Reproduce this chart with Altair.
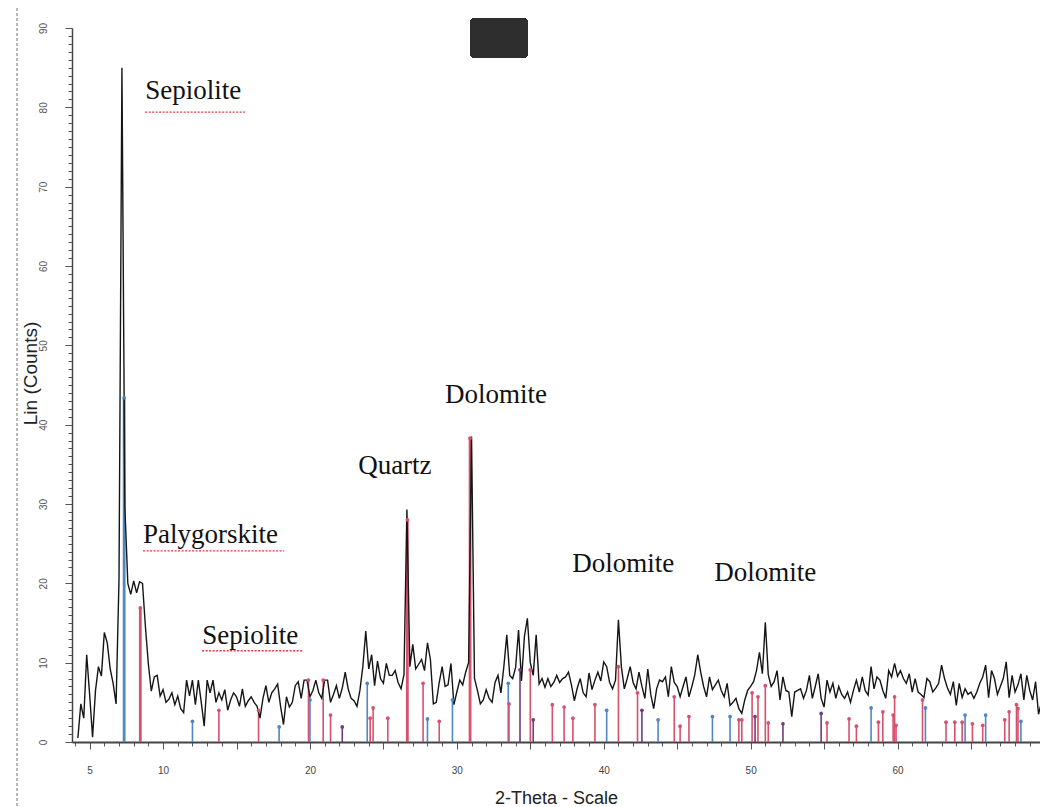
import altair as alt
import pandas as pd

# ---------------- data ----------------
# XRD trace: counts sampled every 0.2 deg 2-theta starting at 4.2
theta_start = 4.2
theta_step = 0.2
counts = [
    0.5, 4.8, 3.0, 11.0, 6.0, 0.6, 6.5, 9.5, 8.3, 13.8,
    12.5, 9.2, 7.4, 4.8, 20.5, 85.0, 29.5, 20.0, 18.6, 20.3,
    18.8, 20.2, 20.0, 14.5, 9.8, 6.4, 8.2, 8.4, 5.8, 6.6,
    5.0, 5.4, 6.2, 4.7, 5.8, 4.2, 3.7, 7.8, 5.8, 7.8,
    4.7, 7.8, 5.0, 2.0, 7.8, 6.2, 7.8, 5.0, 6.2, 5.3,
    6.6, 4.0, 5.3, 6.2, 5.7, 4.5, 6.7, 4.5, 5.2, 5.7,
    5.0, 4.5, 3.0, 5.5, 7.1, 5.0, 6.2, 6.7, 7.3, 4.5,
    2.2, 5.7, 4.4, 5.0, 7.1, 7.6, 5.5, 7.8, 7.8, 5.7,
    6.5, 7.8, 6.2, 5.5, 7.8, 7.8, 5.0, 6.0, 7.1, 5.5,
    6.8, 8.8, 6.7, 5.5, 5.2, 4.5, 6.5, 9.5, 14.0, 9.2,
    11.0, 7.1, 10.2, 8.0, 7.4, 9.9, 8.4, 8.4, 9.0, 7.5,
    6.7, 8.5, 29.3, 9.5, 12.3, 9.2, 9.8, 10.4, 9.0, 12.5,
    10.4, 4.8, 5.0, 7.5, 9.5, 7.0, 7.2, 9.9, 4.7, 6.3,
    7.8, 7.2, 8.8, 10.0, 38.5, 8.0, 6.5, 4.8, 5.3, 6.6,
    5.5, 5.0, 7.5, 8.4, 6.2, 9.5, 13.5, 8.4, 8.0, 9.4,
    14.1, 7.7, 13.3, 15.6, 10.0, 8.4, 13.5, 7.3, 8.0, 6.9,
    8.0, 7.0, 7.5, 8.4, 7.5, 8.0, 8.2, 8.8, 7.2, 5.2,
    6.8, 8.0, 6.2, 5.7, 8.7, 6.6, 7.8, 8.8, 7.7, 10.1,
    9.5, 7.5, 6.7, 7.8, 15.4, 9.5, 6.7, 8.0, 9.5, 7.5,
    6.7, 8.8, 7.0, 5.5, 9.2, 6.0, 4.2, 6.7, 7.8, 7.6,
    8.2, 5.7, 9.5, 7.5, 7.0, 5.7, 7.0, 8.2, 5.7, 7.0,
    8.5, 11.0, 8.8, 7.0, 5.7, 8.2, 6.6, 7.2, 7.8, 6.5,
    5.7, 7.4, 4.6, 5.0, 5.5, 4.2, 3.6, 5.3, 6.5, 7.0,
    7.6, 9.0, 11.3, 8.6, 15.1, 8.5, 7.0, 7.6, 9.0, 5.3,
    8.2, 6.5, 6.3, 3.2, 6.3, 6.5, 6.7, 5.5, 6.5, 8.4,
    5.5, 7.0, 8.6, 5.5, 4.4, 7.8, 6.3, 7.4, 5.5, 7.0,
    6.0, 5.5, 6.3, 5.0, 6.5, 7.8, 6.3, 8.2, 6.5, 5.9,
    9.5, 6.7, 8.2, 7.8, 6.5, 5.5, 9.0, 8.2, 9.9, 8.3,
    9.0, 8.0, 7.4, 8.6, 6.3, 8.0, 6.3, 6.0, 5.6, 8.0,
    7.6, 6.3, 6.8, 7.4, 9.7, 8.0, 6.8, 6.0, 7.6, 4.6,
    7.4, 5.6, 6.7, 6.0, 6.3, 5.5, 6.3, 7.4, 8.2, 9.7,
    5.6, 9.0, 8.0, 6.0, 7.0, 8.0, 10.1, 5.6, 8.4, 6.3,
    7.2, 8.6, 5.3, 8.4, 6.5, 5.3, 7.6, 3.5, 5.0,
]
theta = [round(theta_start + theta_step * i, 1) for i in range(len(counts))]

# reference-pattern sticks: position, height, phase group
stick_t = [7.35, 8.45, 12.0, 13.8, 16.5, 17.9, 19.9, 20.0, 20.9, 21.4,
           22.2, 23.9, 24.1, 24.3, 25.3, 26.63, 27.7, 28.0, 28.8, 29.7,
           30.9, 33.5, 33.55, 34.3, 35.0, 35.2, 36.5, 37.3, 37.9, 39.4,
           40.2, 41.0, 42.3, 42.6, 43.7, 44.8, 45.2, 45.8, 47.4, 48.6,
           49.2, 49.4, 50.1, 50.3, 50.5, 51.0, 51.2, 52.2, 54.8, 55.2,
           56.7, 57.2, 58.2, 58.7, 59.0, 59.7, 59.8, 59.9, 61.7, 61.9,
           63.3, 63.9, 64.4, 64.6, 65.1, 65.8, 66.0, 67.3, 67.6, 68.1,
           68.2, 68.4]
stick_h = [43.4, 16.9, 2.6, 4.0, 4.0, 1.9, 7.8, 5.3, 7.8, 3.4,
           1.9, 7.4, 3.0, 4.3, 3.0, 28.0, 7.4, 2.9, 2.6, 5.3,
           38.3, 7.4, 4.8, 9.1, 9.1, 2.8, 4.7, 4.4, 3.0, 4.7,
           4.0, 9.5, 6.2, 4.0, 2.8, 5.7, 2.0, 3.2, 3.2, 3.2,
           2.8, 2.8, 6.2, 3.2, 5.7, 7.1, 2.4, 2.3, 3.6, 2.4,
           2.9, 2.0, 4.3, 2.5, 3.8, 3.4, 5.7, 2.1, 5.3, 4.3,
           2.5, 2.5, 2.5, 3.4, 2.3, 2.1, 3.4, 2.8, 3.8, 4.7,
           4.2, 2.6]
stick_phase = ["S", "D", "S", "D", "D", "S", "D", "S", "D", "D",
               "M", "S", "D", "D", "D", "D", "D", "S", "D", "S",
               "D", "S", "D", "M", "D", "M", "D", "D", "D", "D",
               "S", "D", "D", "M", "S", "D", "D", "D", "S", "S",
               "D", "D", "D", "M", "D", "D", "D", "M", "M", "D",
               "D", "D", "S", "D", "D", "D", "D", "D", "D", "S",
               "D", "D", "D", "S", "D", "D", "S", "D", "D", "D",
               "D", "S"]

# phase labels
ann_text = ["Sepiolite", "Palygorskite", "Sepiolite", "Quartz",
            "Dolomite", "Dolomite", "Dolomite"]
ann_t = [8.78, 8.64, 12.66, 23.28, 29.2, 37.85, 47.52]
ann_c = [81.0, 25.1, 12.4, 33.8, 42.7, 21.4, 20.3]
# spell-check underlines under three labels
ul_t1 = [8.78, 8.64, 12.66]
ul_t2 = [15.59, 18.24, 19.47]
ul_c = [79.4, 24.1, 11.5]

# axis ticks
x_ticks = list(range(4, 70))
y_ticks = list(range(0, 91))

# ---------------- chart ----------------
trace = pd.DataFrame({"t": theta, "c": counts})
sticks = pd.DataFrame({"t": stick_t, "h": stick_h, "p": stick_phase})
ann = pd.DataFrame({"t": ann_t, "c": ann_c, "txt": ann_text})
ul = pd.DataFrame({"t1": ul_t1, "t2": ul_t2, "c": ul_c})

xs = alt.Scale(domain=[3.8, 69.7], nice=False, zero=False)
ys = alt.Scale(domain=[0, 90], nice=False)
col = alt.Scale(domain=["D", "S", "M"], range=["#d8506c", "#4f86c4", "#6e3d7c"])

x_axis = alt.Axis(
    values=x_ticks,
    labelExpr="datum.value == 5 || datum.value % 10 == 0 ? datum.label : ''",
    tickSize=alt.condition("datum.value % 5 === 0", alt.value(7), alt.value(4)),
    tickColor="#555", tickWidth=1,
    domainColor="#444", domainWidth=2,
    labelFont="Liberation Sans", labelFontSize=10, labelColor="#444",
    labelPadding=16, labelFlush=False,
    title="2-Theta - Scale", titleFont="Liberation Sans", titleFontSize=18,
    titleFontWeight="normal", titleColor="#222", titlePadding=14,
    grid=False,
)
y_axis = alt.Axis(
    values=y_ticks,
    labelExpr="datum.value % 10 == 0 ? datum.label : ''",
    tickSize=alt.condition("datum.value % 10 === 0", alt.value(7), alt.value(4)),
    tickColor="#555", tickWidth=1,
    domainColor="#444", domainWidth=1.5,
    labelFont="Liberation Sans", labelFontSize=10, labelColor="#555",
    labelAngle=270, labelAlign="center", labelBaseline="bottom",
    labelPadding=17, labelFlush=False,
    title="Lin (Counts)", titleFont="Liberation Sans", titleFontSize=19,
    titleFontWeight="normal", titleColor="#222",
    titleX=-42, titleY=345, titleAngle=270, titleAlign="center",
    titleBaseline="middle",
    grid=False,
)

X = lambda f: alt.X(f, scale=xs, axis=x_axis)
Y = lambda f: alt.Y(f, scale=ys, axis=y_axis)

line = alt.Chart(trace).mark_line(color="#151515", strokeWidth=1.4, clip=True).encode(
    x=X("t:Q"), y=Y("c:Q"),
)

stick_rules = alt.Chart(sticks).transform_calculate(base="0").mark_rule().encode(
    x=X("t:Q"), y=Y("h:Q"), y2="base:Q",
    color=alt.Color("p:N", scale=col, legend=None),
    strokeWidth=alt.condition("datum.h > 15", alt.value(2.8), alt.value(1.6)),
)

stick_tops = alt.Chart(sticks).mark_point(filled=True, size=14, opacity=1).encode(
    x=X("t:Q"), y=Y("h:Q"),
    color=alt.Color("p:N", scale=col, legend=None),
)

labels = alt.Chart(ann).mark_text(
    font="Liberation Serif", fontSize=27, color="#111", align="left",
    baseline="alphabetic",
).encode(x=X("t:Q"), y=Y("c:Q"), text="txt:N")

underlines = alt.Chart(ul).mark_rule(
    color="#e03a3a", strokeDash=[2, 1.5], strokeWidth=1.3
).encode(x=X("t1:Q"), x2="t2:Q", y=Y("c:Q"))

margin_line = alt.Chart(trace).mark_rule(
    color="#b8b8b8", strokeDash=[3, 2], strokeWidth=1
).encode(x=alt.value(-55), y=alt.value(-20), y2=alt.value(779))

# dark badge pasted at the top of the scanned figure
badge = alt.Chart(trace).mark_rect(
    color="#2e2e2e", cornerRadius=5
).encode(x=alt.value(398), x2=alt.value(456), y=alt.value(-10), y2=alt.value(30))

chart = alt.layer(
    stick_rules, line, stick_tops, underlines, labels, margin_line, badge
).properties(
    width=968, height=714,
    autosize=alt.AutoSizeParams(type="none"),
    padding={"left": 72, "top": 28, "right": 0, "bottom": 65},
    background="white",
).configure_view(stroke=None)

chart.save("out.html", embed_options={"renderer": "svg", "actions": False})
